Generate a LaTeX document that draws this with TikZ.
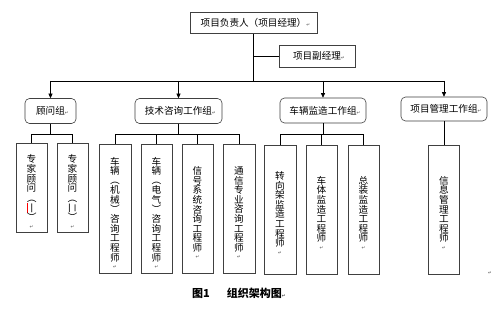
\documentclass[tikz,border=0pt]{standalone}
\usepackage{fontspec}
\setmainfont{Noto Sans CJK SC}
\newfontfamily\dvfont{DejaVu Sans}
\usetikzlibrary{arrows.meta}
\newcommand\pmark{{\dvfont\fontsize{4.5}{4.5}\selectfont\color{black!70}↵}}
\newcommand\redul[1]{\rlap{\textcolor{red}{\rule[-1.6pt]{1em}{0.6pt}}}#1}
\newcommand\vparL{\rotatebox[origin=c]{-90}{（}}
\newcommand\vparR{\rotatebox[origin=c]{-90}{）}}
\begin{document}
\begin{tikzpicture}[x=1pt,y=-1pt,
  every node/.style={inner sep=0pt, font=\fontsize{9.6}{9.6}\selectfont},
  rect/.style={draw=black!75, line width=0.6pt},
  grp/.style={rect, rounded corners=4.5pt, minimum height=25pt},
  leaf/.style={rect, minimum width=31pt},
  vtext/.style={align=center, inner sep=0pt},
  conn/.style={draw=black, line width=0.6pt},
  arr/.style={conn, -{Triangle[length=4.5pt,width=4pt]}},
  mk/.style={font=\dvfont\fontsize{4.5}{4.5}\selectfont, text=black!70}
]
\useasboundingbox (0,0) rectangle (499,310);
\fill[white] (0,0) rectangle (499,310);
\coordinate (bus) at (0,81);
\coordinate (sb) at (0,134);

% top
\node[rect, minimum width=127pt, minimum height=21pt] (top) at (253.5,23) {项目负责人（项目经理）\rlap{\pmark}};
\node[rect, minimum width=76pt, minimum height=22pt] (sub) at (317,56) {项目副经理\rlap{\pmark}};

% groups
\node[grp, minimum width=51pt] (g1) at (50.5,111) {顾问组\rlap{\pmark}};
\node[grp, minimum width=87pt] (g2) at (178.5,111) {技术咨询工作组\rlap{\pmark}};
\node[grp, minimum width=86pt] (g3) at (323,110.5) {车辆监造工作组\rlap{\pmark}};
\node[grp, minimum width=86pt, minimum height=24pt] (g4) at (444,109) {项目管理工作组\rlap{\pmark}};

% leaves
\node[leaf, minimum height=89pt] (l1) at (31.5,187.5) {};
\node[leaf, minimum height=89pt] (l2) at (72.5,187.5) {};
\node[leaf, minimum width=32pt, minimum height=129pt] (l3) at (115,208.5) {};
\node[leaf, minimum height=129pt] (l4) at (156.5,208.5) {};
\node[leaf, minimum height=129pt] (l5) at (197.5,208.5) {};
\node[leaf, minimum width=32pt, minimum height=129pt] (l6) at (239,208.5) {};
\node[leaf, minimum width=32pt, minimum height=129pt] (l7) at (280,209.5) {};
\node[leaf, minimum height=129pt] (l8) at (321.5,209.5) {};
\node[leaf, minimum height=129pt] (l9) at (363.5,209.5) {};
\node[leaf, minimum height=129pt] (l10) at (444,209.5) {};

% vertical texts
\node[vtext] (t1) at ([yshift=-1pt]l1.center) {专\\家\\顾\\问\\\rotatebox[origin=c]{-90}{（\redul{一}）}};
\node[vtext] (t2) at ([yshift=-1pt]l2.center) {专\\家\\顾\\问\\\rotatebox[origin=c]{-90}{（二）}};
\node[vtext] (t3) at ([yshift=-1pt]l3.center) {车\\辆\\\vparL\\机\\械\\\vparR\\咨\\询\\工\\程\\师};
\node[vtext] (t4) at ([yshift=-1pt]l4.center) {车\\辆\\\vparL\\电\\气\\\vparR\\咨\\询\\工\\程\\师};
\node[vtext] (t5) at ([yshift=-1pt]l5.center) {信\\号\\系\\统\\咨\\询\\工\\程\\师};
\node[vtext] (t6) at ([yshift=-1pt]l6.center) {通\\信\\专\\业\\咨\\询\\工\\程\\师};
\node[vtext] (t7) at (l7.center) {转\\向\\架\\监\\造\\工\\程\\师};
\node[vtext] (t8) at (l8.center) {车\\体\\监\\造\\工\\程\\师};
\node[vtext] (t9) at (l9.center) {总\\装\\监\\造\\工\\程\\师};
\node[vtext] (t10) at (l10.center) {信\\息\\管\\理\\工\\程\\师};
\foreach \i in {1,...,10} {
  \node[mk] (m\i) at ([yshift=-5pt]t\i.south) {↵};
}

% connectors
\draw[conn] (top.south) -- (top.south |- bus);
\draw[conn] (top.south |- sub.west) -- (sub.west);
\draw[conn] (g1.north |- bus) -- (g4.north |- bus);
\draw[arr] (g1.north |- bus) -- (g1.north);
\draw[arr] (g2.north |- bus) -- (g2.north);
\draw[arr] (g3.north |- bus) -- (g3.north);
\draw[arr] (g4.north |- bus) -- (g4.north);

\draw[conn] (g1.south) -- (g1.south |- sb);
\draw[conn] (l1.north) -- (l1.north |- sb) -- (l2.north |- sb) -- (l2.north);

\draw[conn] (g2.south) -- (g2.south |- sb);
\draw[conn] (l3.north) -- (l3.north |- sb) -- (l6.north |- sb) -- (l6.north);
\draw[conn] (l4.north) -- (l4.north |- sb);
\draw[conn] (l5.north) -- (l5.north |- sb);

\draw[conn] (g3.south) -- (g3.south |- sb);
\draw[conn] (l7.north) -- (l7.north |- sb) -- (l9.north |- sb) -- (l9.north);
\draw[conn] (l8.north) -- (l8.north |- sb);

\draw[conn] (g4.south) -- (l10.north);

% caption
\node[anchor=west, font=\fontsize{11}{11}\selectfont\bfseries] (cap) at (192,293) {图1\hspace{17pt}组织架构图\rlap{\pmark}};
\node[mk] (stray) at (490,273) {↵};
\end{tikzpicture}
\end{document}
